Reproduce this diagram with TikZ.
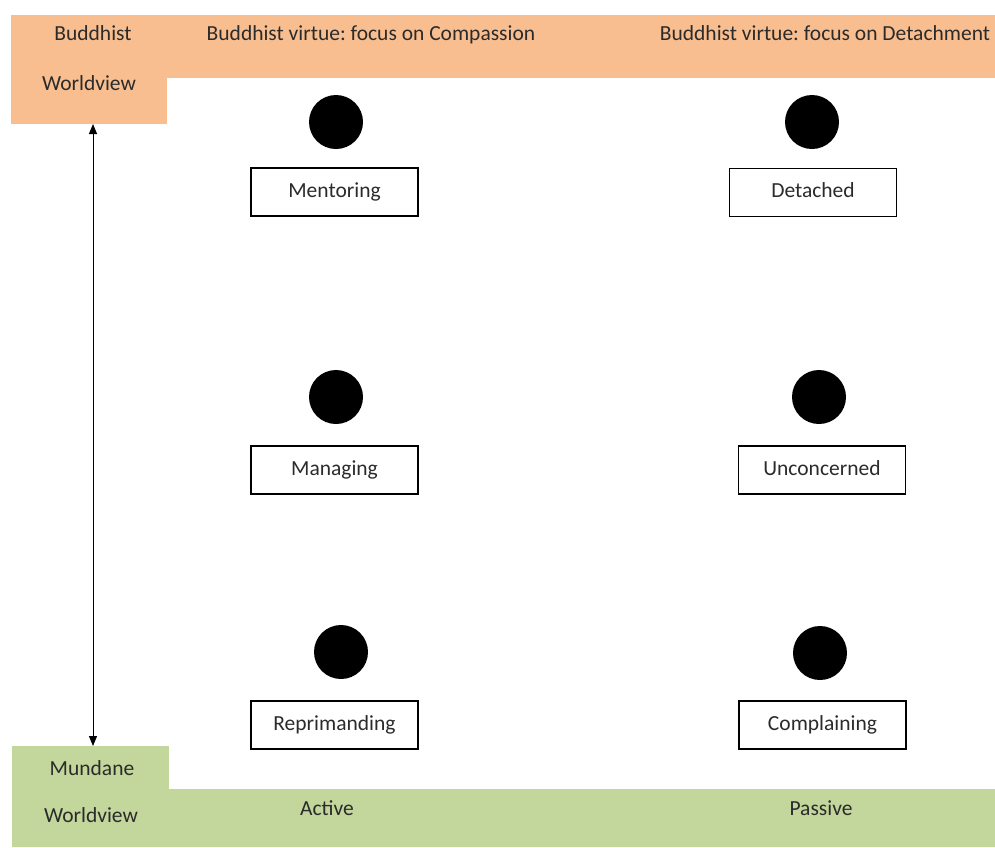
\documentclass[tikz,border=0pt]{standalone}
\usepackage{fontspec}
\setmainfont{Carlito}
\usetikzlibrary{arrows.meta}
\definecolor{borange}{HTML}{F9BE8F}
\definecolor{mgreen}{HTML}{C3D69B}
\definecolor{txt}{HTML}{2B2B2B}
\frenchspacing
\tikzset{
  lbl/.style={font=\fontsize{21.5}{25}\selectfont, text=txt, inner sep=0pt, text height=15pt, text depth=5pt},
  band/.style={inner sep=0pt, outer sep=0pt, anchor=north west},
  dot/.style={circle, fill=black, minimum size=54pt, inner sep=0pt},
  itembox/.style={draw=black, line width=1.3pt, fill=white, minimum width=167pt, minimum height=48pt, inner sep=0pt, font=\fontsize{21.5}{25}\selectfont, text=txt, text height=15pt, text depth=5pt},
  dblarrow/.style={{Triangle[length=10pt,width=8pt]}-{Triangle[length=10pt,width=8pt]}, line width=1pt}
}
\begin{document}
\begin{tikzpicture}[x=1pt,y=-1pt]
\useasboundingbox (0,0) rectangle (995,847);
% orange L shape
\node[band, fill=borange, minimum width=984pt, minimum height=63pt] (topband) at (11,15) {};
\node[band, fill=borange, minimum width=156pt, minimum height=109pt] (topcol) at (11,15) {};
% green L shape
\node[band, fill=mgreen, minimum width=826pt, minimum height=58pt] (botband) at (169,789) {};
\node[band, fill=mgreen, minimum width=157pt, minimum height=101pt] (botcol) at (12,746) {};
% header texts
\node[lbl] (bw1) at (93,35) {Buddhist};
\node[lbl] (bw2) at (89,85) {Worldview};
\node[lbl] (comp) at (371,35) {Buddhist virtue: focus on Compassion};
\node[lbl] (det) at (825,35) {Buddhist virtue: focus on Detachment};
\node[lbl] (mw1) at (92,770) {Mundane};
\node[lbl] (mw2) at (91,817) {Worldview};
\node[lbl] (act) at (327,810) {Active};
\node[lbl] (pas) at (821,810) {Passive};
% dots
\node[dot] (d1) at (336,122) {};
\node[dot] (d2) at (812,122) {};
\node[dot] (d3) at (336,397) {};
\node[dot] (d4) at (819,397) {};
\node[dot] (d5) at (341,652) {};
\node[dot] (d6) at (820,653) {};
% boxes
\node[itembox] (mentor) at (334.5,192) {Mentoring};
\node[itembox] (detached) at (813,192.5) {Detached};
\node[itembox] (manage) at (334.5,470) {Managing};
\node[itembox] (uncon) at (822,470) {Unconcerned};
\node[itembox] (repr) at (334.5,725) {Reprimanding};
\node[itembox] (compl) at (822.5,725) {Complaining};
% arrow
\coordinate (atop) at (93,124);
\coordinate (abot) at (93,746);
\draw[dblarrow] (atop) -- (abot);
\end{tikzpicture}
\end{document}
